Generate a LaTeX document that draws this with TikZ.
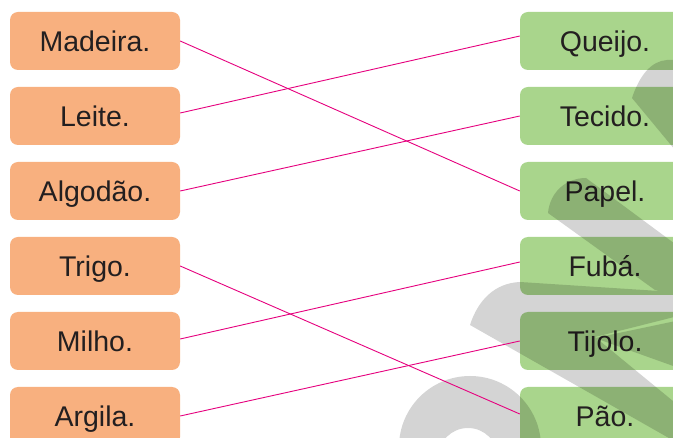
\documentclass[tikz,border=0pt]{standalone}
\usepackage{fontspec}
\setmainfont{Liberation Sans}
\definecolor{boxorange}{HTML}{F8B07F}
\definecolor{boxgreen}{HTML}{A9D58C}
\definecolor{linkpink}{HTML}{E6007E}
\definecolor{txtdark}{HTML}{231F20}
\begin{document}
\begin{tikzpicture}[x=1pt,y=-1pt,
  itembox/.style={rounded corners=8pt, minimum width=170pt, minimum height=58pt,
    inner sep=0pt, text height=20.4pt, text depth=0pt,
    font=\fontsize{28.5}{34}\selectfont, text=txtdark},
  srcbox/.style={itembox, fill=boxorange},
  dstbox/.style={itembox, fill=boxgreen},
  link/.style={draw=linkpink, line width=0.9pt},
  mark shape/.style={fill=black}]
\useasboundingbox (0,0) rectangle (673,438);
\clip (0,0) rectangle (673,438);
\fill[white] (0,0) rectangle (673,438);

% left column
\node[srcbox] (madeira) at (95,41)  {Madeira.};
\node[srcbox] (leite)   at (95,116) {Leite.};
\node[srcbox] (algodao) at (95,191) {Algodão.};
\node[srcbox] (trigo)   at (95,266) {Trigo.};
\node[srcbox] (milho)   at (95,341) {Milho.};
\node[srcbox] (argila)  at (95,416) {Argila.};

% right column
\node[dstbox] (queijo)  at (605,41)  {Queijo.};
\node[dstbox] (tecido)  at (605,116) {Tecido.};
\node[dstbox] (papel)   at (605,191) {Papel.};
\node[dstbox] (fuba)    at (605,266) {Fubá.};
\node[dstbox] (tijolo)  at (605,341) {Tijolo.};
\node[dstbox] (pao)     at (605,416) {Pão.};

% watermark
\begin{scope}[transparency group, opacity=0.17]
  \fill[mark shape] (632,98) .. controls (640,74) and (652,61) .. (667,60) -- (690,60) -- (690,168) -- cycle;
  \fill[mark shape] (548,213) .. controls (550,192) and (566,178) .. (586,178) -- (690,255) -- (690,300) -- (655,290) -- cycle;
  \fill[mark shape] (690,293) -- (520,282) .. controls (495,283) and (478,300) .. (470,325)
        -- (690,450) -- (690,415) -- (595,337) -- (690,313) -- cycle;
  \fill[mark shape] (595,338) -- (690,318) -- (690,372) -- cycle;
  \fill[mark shape, even odd rule] (470,447) circle[radius=71] (468,458) circle[radius=30];
\end{scope}

% links
\draw[link] (madeira.east) -- (papel.west);
\draw[link] ([yshift=3pt]leite.east) -- ([yshift=5pt]queijo.west);
\draw[link] (algodao.east) -- (tecido.west);
\draw[link] (trigo.east) -- ([yshift=2pt]pao.west);
\draw[link] ([yshift=2pt]milho.east) -- ([yshift=4pt]fuba.west);
\draw[link] (argila.east) -- (tijolo.west);
\end{tikzpicture}
\end{document}
